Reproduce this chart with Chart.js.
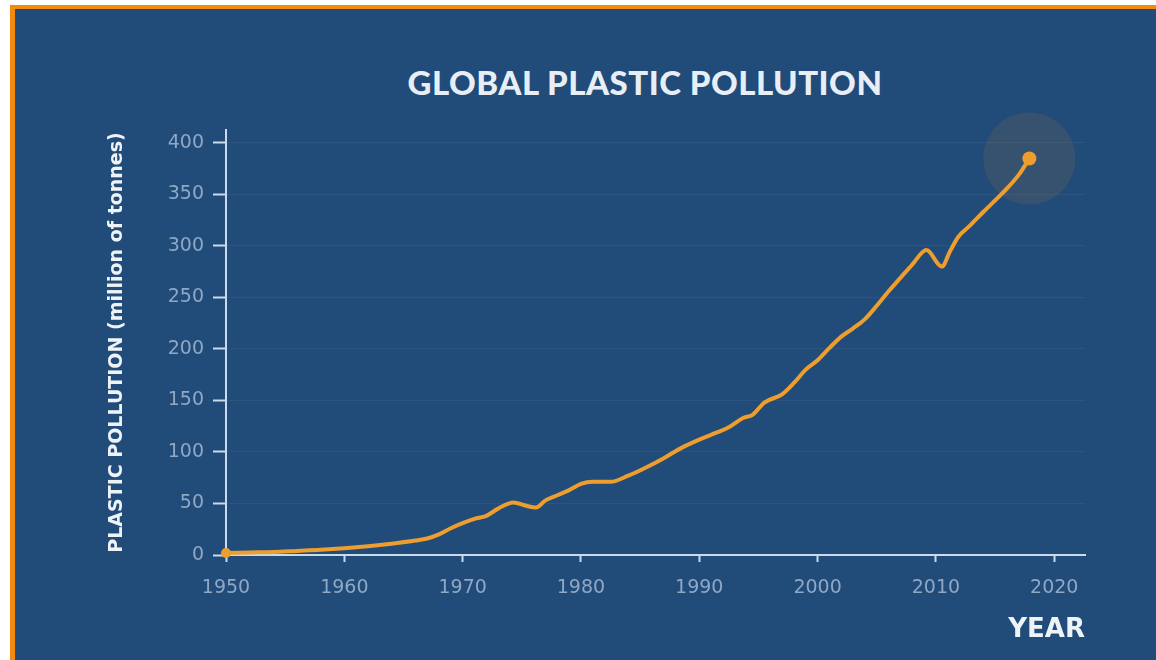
<!DOCTYPE html>
<html>
<head>
<meta charset="utf-8">
<script src="https://cdn.jsdelivr.net/npm/chart.js@4.4.1/dist/chart.umd.min.js"></script>
<style>
  html, body { margin:0; padding:0; width:1156px; height:660px; overflow:hidden; background:#ffffff; }
  #panel { position:absolute; left:10px; top:5px; right:0; bottom:0; background:#214b78;
           border-left:5px solid #f28a0c; border-top:4px solid #f28a0c; }
  #title { position:absolute; left:345px; width:600px; top:63px; text-align:center;
           font-family:'Lato', sans-serif; font-weight:900; font-size:33px; line-height:38px;
           color:#e8eef5; letter-spacing:0.5px; }
  #wrap { position:absolute; left:0; top:0; width:1156px; height:660px; }
</style>
</head>
<body>
<div id="panel"></div>
<div id="title">GLOBAL PLASTIC POLLUTION</div>
<div id="wrap"><canvas id="c" width="1156" height="660"></canvas></div>
<script>
// ---- data ----
const years = [1950, 1952, 1954, 1956, 1958, 1960, 1962, 1964, 1966, 1967, 1968, 1969, 1970, 1971, 1972, 1973,
  1974.3, 1975.3, 1976.2, 1977, 1978, 1979, 1980, 1981, 1982.5, 1984, 1985.5, 1987, 1988.5, 1990, 1991.5, 1992.5,
  1993.7, 1994.5, 1995.5, 1997, 1998, 1999, 2000, 2001, 2002, 2003, 2004, 2005, 2006, 2007, 2008, 2009.2, 2010.5,
  2011.2, 2011.9, 2012.8, 2014, 2015.6, 2017, 2017.9];
const values = [2, 2.5, 3, 4, 5, 6.5, 8.5, 11, 14, 16, 20, 26, 31, 35, 38, 45,
  51, 48, 46, 53, 58, 63, 69, 71, 71, 77, 85, 94, 104, 112, 119, 124,
  133, 136, 148, 156, 167, 180, 189, 201, 212, 220, 229, 242, 256, 269, 282, 296, 280,
  295, 309, 319, 333, 351, 369, 385];
const xTicks = [1950, 1960, 1970, 1980, 1990, 2000, 2010, 2020];
const yTicks = [0, 50, 100, 150, 200, 250, 300, 350, 400];
const yTitle = 'PLASTIC POLLUTION (million of tonnes)';
const xTitle = 'YEAR';

const axisColor = '#c9dcec';
const tickText = '#8ea8c6';
const orange = '#ee9e2e';

const points = years.map((y, i) => ({ x: y, y: values[i] }));
const last = points.length - 1;

new Chart(document.getElementById('c'), {
  type: 'line',
  data: {
    datasets: [
      {
        data: points,
        borderColor: orange,
        borderWidth: 4,
        cubicInterpolationMode: 'monotone',
        pointRadius: ctx => (ctx.dataIndex === 0 ? 5 : (ctx.dataIndex === last ? 7 : 0)),
        pointBackgroundColor: orange,
        pointBorderWidth: 0,
        order: 1,
        clip: false
      },
      {
        data: [points[last]],
        showLine: false,
        pointRadius: 46,
        pointBackgroundColor: 'rgba(240,150,50,0.11)',
        pointBorderWidth: 0,
        order: 2,
        clip: false
      }
    ]
  },
  options: {
    responsive: false,
    animation: false,
    events: [],
    layout: { padding: { left: 106, right: 71, top: 130, bottom: 14 } },
    plugins: { legend: { display: false }, tooltip: { enabled: false }, title: { display: false } },
    scales: {
      x: {
        type: 'linear', min: 1950, max: 2022.6,
        afterBuildTicks: s => { s.ticks = xTicks.map(v => ({ value: v })); },
        afterFit: s => { s.height = 91; },
        border: { display: true, color: axisColor, width: 2 },
        grid: { drawOnChartArea: false, drawTicks: true, tickColor: axisColor, tickLength: 7, tickWidth: 2 },
        ticks: { color: tickText, font: { family: 'DejaVu Sans', size: 19 }, padding: 15, maxRotation: 0,
                 callback: v => String(v) },
        title: { display: true, text: xTitle, align: 'end', color: '#eef3f8',
                 font: { family: 'DejaVu Sans', weight: 'bold', size: 26 }, padding: 0 }
      },
      y: {
        type: 'linear', min: 0, max: 412.6,
        afterBuildTicks: s => { s.ticks = yTicks.map(v => ({ value: v })); },
        afterFit: s => { s.width = 120; },
        border: { display: true, color: axisColor, width: 2 },
        grid: { color: 'rgba(255,255,255,0.05)', lineWidth: 1, drawTicks: true, tickColor: axisColor,
                tickLength: 13, tickWidth: 2 },
        ticks: { color: tickText, font: { family: 'DejaVu Sans', size: 19 }, padding: 9 },
        title: { display: true, text: yTitle, color: '#eef3f8',
                 font: { family: 'DejaVu Sans', weight: 'bold', size: 19 }, padding: 0 }
      }
    }
  }
});
</script>
</body>
</html>
